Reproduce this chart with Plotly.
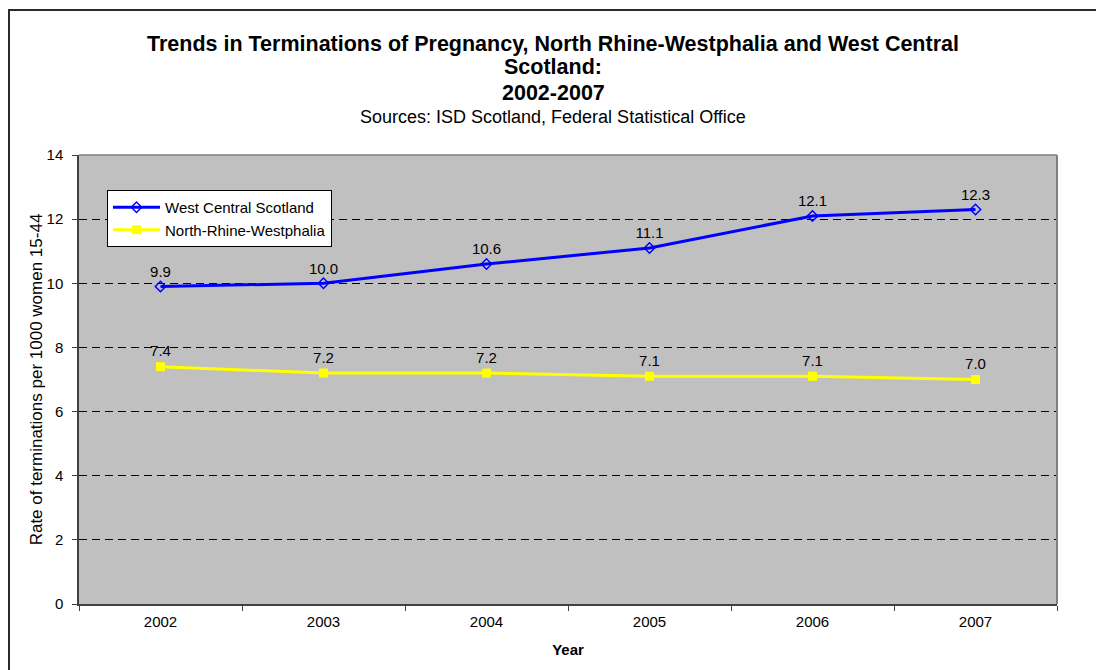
import plotly.graph_objects as go

years = ["2002", "2003", "2004", "2005", "2006", "2007"]
west_central_scotland = [9.9, 10.0, 10.6, 11.1, 12.1, 12.3]
north_rhine_westphalia = [7.4, 7.2, 7.2, 7.1, 7.1, 7.0]

FONT = "Liberation Sans, Arial, sans-serif"

fig = go.Figure()

fig.add_trace(go.Scatter(
    x=years, y=west_central_scotland, name="West Central Scotland",
    mode="lines+markers+text",
    line=dict(color="#0000FF", width=3),
    marker=dict(symbol="diamond-open", size=8, color="#0000FF", line=dict(width=1.5)),
    texttemplate="%{y:.1f}", textposition="top center",
    textfont=dict(family=FONT, size=15, color="#000000"),
))
fig.add_trace(go.Scatter(
    x=years, y=north_rhine_westphalia, name="North-Rhine-Westphalia",
    mode="lines+markers+text",
    line=dict(color="#FFFF00", width=3),
    marker=dict(symbol="square", size=9, color="#FFFF00"),
    texttemplate="%{y:.1f}", textposition="top center",
    textfont=dict(family=FONT, size=15, color="#000000"),
))

W, H = 1096, 670
L, R, T, B = 79, 39, 155, 66
pw, ph = W - L - R, H - T - B


def px(x):
    return (x - L) / pw


def py(y):
    return (H - B - y) / ph


title_lines = [
    ("<b>Trends in Terminations of Pregnancy, North Rhine-Westphalia and West Central</b>", 44, 21.5),
    ("<b>Scotland:</b>", 67, 21.5),
    ("<b>2002-2007</b>", 93, 21.5),
    ("Sources: ISD Scotland, Federal Statistical Office", 117, 18),
]
annotations = [
    dict(text=t, x=px(553), y=py(yc), xref="paper", yref="paper",
         xanchor="center", yanchor="middle", showarrow=False,
         font=dict(family=FONT, size=s, color="#000000"))
    for t, yc, s in title_lines
]

shapes = [
    # outer chart frame: top and left edges (the others run off the page)
    dict(type="line", xref="paper", yref="paper",
         x0=px(8), x1=px(1096), y0=py(10), y1=py(10),
         line=dict(color="#2b2b2b", width=2), layer="below"),
    dict(type="line", xref="paper", yref="paper",
         x0=px(9), x1=px(9), y0=py(9), y1=py(670),
         line=dict(color="#2b2b2b", width=2), layer="below"),
    # top and right plot borders
    dict(type="line", xref="paper", yref="paper", x0=0, x1=1, y0=1, y1=1,
         line=dict(color="#808080", width=1.5)),
    dict(type="line", xref="paper", yref="paper", x0=1, x1=1, y0=0, y1=1,
         line=dict(color="#808080", width=2)),
]

fig.update_layout(
    width=W, height=H,
    margin=dict(l=L, r=R, t=T, b=B),
    paper_bgcolor="#FFFFFF",
    plot_bgcolor="#C0C0C0",
    font=dict(family=FONT, size=15, color="#000000"),
    showlegend=True,
    legend=dict(
        x=px(107), y=py(190), xanchor="left", yanchor="top",
        bgcolor="#FFFFFF", bordercolor="#000000", borderwidth=1,
        font=dict(family=FONT, size=15, color="#000000"),
        tracegroupgap=0, itemwidth=47,
    ),
    annotations=annotations,
    shapes=shapes,
    xaxis=dict(
        type="category", range=[-0.5, 5.5],
        tickson="boundaries", ticks="outside", ticklen=5, tickcolor="#404040",
        showline=True, linecolor="#404040", linewidth=1.5,
        showgrid=False, zeroline=False,
        tickfont=dict(family=FONT, size=15),
        ticklabelstandoff=3,
        title=dict(text="<b>Year</b>", font=dict(family=FONT, size=15), standoff=16),
    ),
    yaxis=dict(
        range=[0, 14], dtick=2, tick0=0,
        ticks="outside", ticklen=5, tickcolor="#404040",
        showline=True, linecolor="#404040", linewidth=1.5,
        showgrid=True, gridcolor="#000000", gridwidth=1, griddash="8px,5px",
        zeroline=False,
        tickfont=dict(family=FONT, size=15),
        ticklabelstandoff=6,
        title=dict(text="Rate of terminations per 1000 women 15-44",
                   font=dict(family=FONT, size=17), standoff=0),
    ),
)

fig.write_html("out.html")
